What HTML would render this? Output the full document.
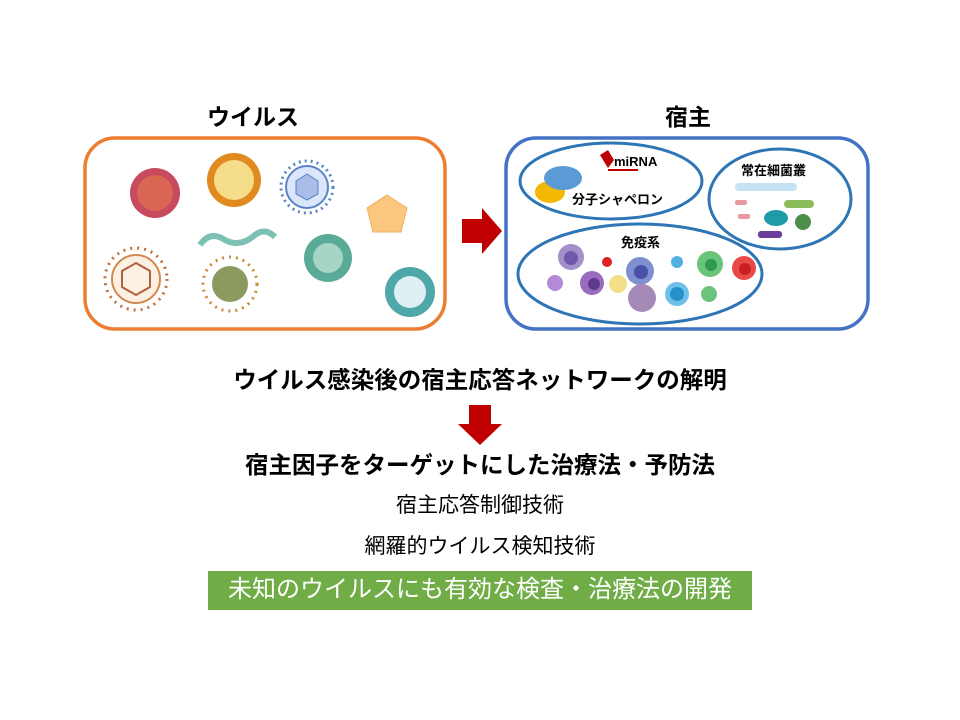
<!DOCTYPE html>
<html><head><meta charset="utf-8"><style>
body{margin:0;width:960px;height:720px;background:#fff;overflow:hidden;font-family:"Liberation Sans","Noto Sans CJK JP",sans-serif;}
.t{position:absolute;left:0;width:960px;text-align:center;color:#000;line-height:1;}
</style></head><body>
<svg width="960" height="720" style="position:absolute;left:0;top:0">
<g font-family="Liberation Sans, Noto Sans CJK JP, sans-serif" font-weight="bold">
<text x="253" y="125" font-size="23" text-anchor="middle">ウイルス</text>
<text x="688" y="125" font-size="23" text-anchor="middle">宿主</text>
</g>
<rect x="85" y="138" width="360" height="191" rx="30" fill="#fff" stroke="#ED7D31" stroke-width="3.5"/>
<rect x="506" y="138" width="362" height="191" rx="30" fill="#fff" stroke="#4472C4" stroke-width="3.5"/>
<circle cx="155" cy="193" r="25" fill="#c84a5e"/><circle cx="155" cy="193" r="18" fill="#e0704f" opacity=".7"/>
<circle cx="234" cy="180" r="27" fill="#e08a20"/><circle cx="234" cy="180" r="20" fill="#f6dd8a"/>
<circle cx="307" cy="187" r="26" fill="none" stroke="#5a84c4" stroke-width="3" stroke-dasharray="2 4"/><circle cx="307" cy="187" r="21" fill="#dbe6fa" stroke="#5a84c4" stroke-width="2"/><polygon points="307,174 318,181 318,194 307,200 296,194 296,181" fill="#a8bde8" stroke="#5a84c4"/>
<polygon points="387,195 407,208 401,232 373,232 367,208" fill="#fbc77e" stroke="#f0b060"/>
<circle cx="136" cy="279" r="31" fill="none" stroke="#c0703a" stroke-width="3" stroke-dasharray="2 5"/><circle cx="136" cy="279" r="24" fill="#fbf0e2" stroke="#d08a50" stroke-width="2"/><polygon points="136,263 150,271 150,287 136,295 122,287 122,271" fill="none" stroke="#b06040" stroke-width="2"/>
<path d="M200 245 q10 -15 25 -5 q15 8 30 -5 q10 -8 20 2" fill="none" stroke="#7cc1b4" stroke-width="6"/>
<circle cx="230" cy="284" r="27" fill="none" stroke="#c98a30" stroke-width="3" stroke-dasharray="2 5"/><circle cx="230" cy="284" r="18" fill="#8c9a60"/>
<circle cx="328" cy="258" r="24" fill="#5aaa98"/><circle cx="328" cy="258" r="15" fill="#a6d4c6"/>
<circle cx="410" cy="292" r="25" fill="#4fa8a8"/><circle cx="410" cy="292" r="16" fill="#dff0f4"/>
<ellipse cx="611" cy="181" rx="91" ry="38" fill="none" stroke="#2E75B6" stroke-width="3"/>
<ellipse cx="780" cy="199" rx="71" ry="50" fill="none" stroke="#2E75B6" stroke-width="3"/>
<ellipse cx="640" cy="274" rx="122" ry="50" fill="none" stroke="#2E75B6" stroke-width="3"/>
<ellipse cx="550" cy="192" rx="15" ry="11" fill="#f5b800"/>
<ellipse cx="563" cy="178" rx="19" ry="12" fill="#5b9bd5"/>
<path d="M600 155 l8 -5 l6 10 l-6 8z" fill="#c00000"/><path d="M608 170 h30" stroke="#c00000" stroke-width="2"/>
<g font-family="Liberation Sans, Noto Sans CJK JP, sans-serif" font-weight="bold" font-size="13">
<text x="614" y="166">miRNA</text>
<text x="572" y="204">分子シャペロン</text>
<text x="741" y="175">常在細菌叢</text>
<text x="621" y="247">免疫系</text>
</g>
<rect x="735" y="183" width="62" height="8" rx="4" fill="#c5e3f5"/>
<rect x="784" y="200" width="30" height="8" rx="4" fill="#8cbd5c"/>
<ellipse cx="776" cy="218" rx="12" ry="8" fill="#1f9aa8"/>
<circle cx="803" cy="222" r="8" fill="#4d8f4a"/>
<rect x="758" y="231" width="24" height="7" rx="3" fill="#6a3f99"/>
<rect x="735" y="200" width="12" height="5" rx="2" fill="#e89aa0"/><rect x="738" y="214" width="12" height="5" rx="2" fill="#e89aa0"/>
<circle cx="571" cy="257" r="13" fill="#a290c8"/><circle cx="571" cy="258" r="7" fill="#6e5aa8"/>
<circle cx="555" cy="283" r="8" fill="#b48ad6"/>
<circle cx="592" cy="283" r="12" fill="#9a6cbf"/><circle cx="594" cy="284" r="6" fill="#5e3a8a"/>
<circle cx="607" cy="262" r="5" fill="#d22"/>
<circle cx="618" cy="284" r="9" fill="#f3df8a"/>
<circle cx="640" cy="271" r="14" fill="#7f8fd0"/><circle cx="641" cy="272" r="7" fill="#4850a8"/>
<circle cx="642" cy="298" r="14" fill="#a58ab8"/>
<circle cx="677" cy="262" r="6" fill="#52b0e0"/>
<circle cx="677" cy="294" r="12" fill="#6dc0ea"/><circle cx="677" cy="294" r="7" fill="#2890c8"/>
<circle cx="710" cy="264" r="13" fill="#6ac47c"/><circle cx="711" cy="265" r="6" fill="#2f9a4c"/>
<circle cx="709" cy="294" r="8" fill="#6ac47c"/>
<circle cx="744" cy="268" r="12" fill="#e84a4a"/><circle cx="745" cy="269" r="6" fill="#c82020"/>
<polygon points="462,219 482,219 482,208 502,231 482,254 482,243 462,243" fill="#C00000"/>
<polygon points="469,405 491,405 491,424 502,424 480,445 458,424 469,424" fill="#C00000"/>
<rect x="208" y="571" width="544" height="39" fill="#70AD47"/>
</svg>
<div class="t" style="top:369px;font-size:23.5px;font-weight:bold">ウイルス感染後の宿主応答ネットワークの解明</div>
<div class="t" style="top:454px;font-size:23.5px;font-weight:bold">宿主因子をターゲットにした治療法・予防法</div>
<div class="t" style="top:495px;font-size:21px">宿主応答制御技術</div>
<div class="t" style="top:536px;font-size:21px">網羅的ウイルス検知技術</div>
<div class="t" style="top:578px;font-size:24px;color:#fff">未知のウイルスにも有効な検査・治療法の開発</div>
</body></html>
